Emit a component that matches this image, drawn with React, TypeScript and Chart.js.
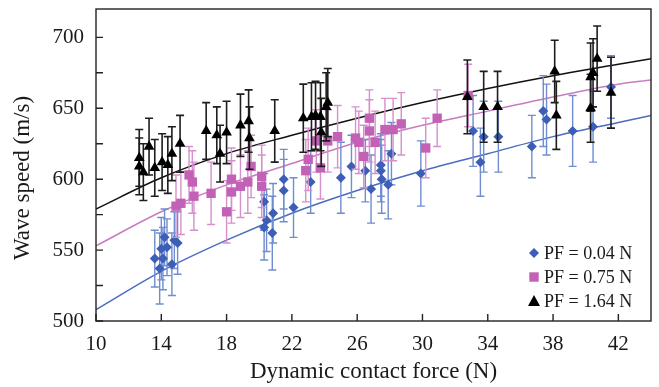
import React, { useEffect, useRef } from 'react';
import { Chart, registerables } from 'chart.js';

Chart.register(...registerables);

// ---------- data ----------
const X_TICKS = [10, 14, 18, 22, 26, 30, 34, 38, 42];
const Y_TICKS = [500, 525, 550, 575, 600, 625, 650, 675, 700];
const Y_LABELED = [500, 550, 600, 650, 700];

const BLUE_X = [13.6, 13.9, 14.0, 14.2, 14.1, 14.35, 14.65, 14.8, 15.0, 20.3, 20.45, 20.3, 20.85, 20.8, 21.5, 21.5, 22.1, 23.15, 25.0, 25.65, 26.5, 26.85, 27.45, 27.45, 27.5, 27.9, 28.1, 29.9, 33.1, 33.55, 33.75, 34.65, 36.7, 37.4, 37.6, 39.2, 40.45, 41.55];
const BLUE_Y = [544, 537, 551, 559, 544, 552, 540, 557, 555, 584, 571, 566, 576, 562, 600, 592, 580, 598, 601, 609, 606, 593, 610, 606, 600, 596, 618, 604, 634, 612, 630, 630, 623, 648, 642, 634, 637, 665];
const BLUE_ERR = [20, 25, 22, 20, 22, 20, 22, 20, 22, 20, 22, 23, 21, 26, 21, 22, 21, 22, 25, 22, 22, 24, 22, 22, 24, 24, 22, 23, 25, 24, 25, 25, 22, 25, 25, 25, 25, 22];

const PINK_X = [14.9, 15.2, 15.7, 15.9, 16.0, 17.05, 18.0, 18.3, 18.3, 18.85, 19.3, 19.5, 20.15, 20.15, 22.85, 23.0, 23.5, 23.75, 24.2, 24.8, 25.9, 26.1, 26.4, 26.75, 26.75, 27.1, 27.7, 28.2, 28.7, 30.2, 30.9, 32.8];
const PINK_Y = [581, 583, 603, 598, 588, 590, 577, 600, 591, 595, 598, 609, 602, 595, 606, 614, 627, 608, 627, 630, 629, 626, 616, 643, 634, 626, 635, 635, 639, 622, 643, 659];
const PINK_ERR = [22, 22, 20, 22, 24, 22, 22, 22, 22, 22, 22, 22, 22, 22, 22, 22, 22, 22, 22, 22, 22, 22, 22, 20, 22, 22, 22, 22, 22, 21, 20, 22];

const BLACK_X = [12.65, 12.65, 12.9, 13.25, 13.6, 14.05, 14.4, 14.65, 15.15, 16.75, 17.4, 17.6, 18.0, 18.85, 19.35, 19.4, 20.95, 22.7, 23.2, 23.45, 23.75, 23.8, 24.1, 24.2, 32.75, 33.75, 34.6, 38.1, 38.2, 40.3, 40.3, 40.45, 40.7, 41.55];
const BLACK_Y = [615, 609, 605, 623, 608, 612, 610, 618, 625, 634, 631, 618, 633, 638, 641, 629, 634, 643, 644, 645, 644, 633, 651, 654, 658, 651, 651, 676, 645, 650, 672, 675, 685, 661];
const BLACK_ERR = [20, 20, 20, 20, 20, 20, 20, 19, 20, 20, 20, 20, 22, 22, 22, 22, 22, 24, 24, 24, 24, 24, 24, 24, 26, 25, 25, 22, 24, 24, 24, 24, 23, 25];

const FIT_X = [10, 14, 18, 22, 26, 30, 34, 38, 42, 44];
const BLUE_FIT = [508, 535, 557, 576, 592, 606, 618, 630, 640, 645];
const PINK_FIT = [553, 577, 596, 611, 626, 638, 648, 658, 667, 670];
const BLACK_FIT = [579, 601, 618, 631, 643, 654, 664, 673, 681, 685];

const LEGEND_LABELS = ['PF = 0.04 N', 'PF = 0.75 N', 'PF = 1.64 N'];
const X_TITLE = 'Dynamic contact force (N)';
const Y_TITLE = 'Wave speed (m/s)';

// ---------- styles ----------
const BLUE = '#3c5eb6';
const PINK = '#c261b5';
const BLACK = '#000000';
const BLUE_BAR = '#6f8dd0';
const PINK_BAR = '#d690cb';
const BLACK_BAR = '#1e1e1e';
const FONT = '"Liberation Serif", "Times New Roman", serif';
const TEXT = '#1a1a1a';

const pts = (xs: number[], ys: number[]) => xs.map((x, i) => ({ x, y: ys[i] }));

function drawMarker(ctx: CanvasRenderingContext2D, kind: string, x: number, y: number, color: string) {
  ctx.save();
  ctx.fillStyle = color;
  ctx.beginPath();
  if (kind === 'diamond') {
    const r = 5;
    ctx.moveTo(x, y - r); ctx.lineTo(x + r, y); ctx.lineTo(x, y + r); ctx.lineTo(x - r, y);
  } else if (kind === 'square') {
    const h = 4.7;
    ctx.rect(x - h, y - h, 2 * h, 2 * h);
  } else {
    ctx.moveTo(x, y - 6); ctx.lineTo(x + 6, y + 5); ctx.lineTo(x - 6, y + 5);
  }
  ctx.closePath();
  ctx.fill();
  ctx.restore();
}

const errorBarPlugin = {
  id: 'errorBars',
  beforeDatasetDraw(chart: any, args: any) {
    const ds = chart.data.datasets[args.index];
    if (!ds.errors) return;
    const { ctx } = chart;
    const xs = chart.scales.x;
    const ys = chart.scales.y;
    ctx.save();
    ctx.strokeStyle = ds.errorColor;
    ctx.lineWidth = ds.errorWidth;
    ds.data.forEach((p: any, i: number) => {
      const e = ds.errors[i];
      const px = xs.getPixelForValue(p.x);
      const top = ys.getPixelForValue(p.y + e);
      const bot = ys.getPixelForValue(p.y - e);
      ctx.beginPath();
      ctx.moveTo(px, top); ctx.lineTo(px, bot);
      ctx.moveTo(px - 4, top); ctx.lineTo(px + 4, top);
      ctx.moveTo(px - 4, bot); ctx.lineTo(px + 4, bot);
      ctx.stroke();
    });
    ctx.restore();
  },
};

const framePlugin = {
  id: 'frame',
  afterDraw(chart: any) {
    const { ctx, chartArea } = chart;
    const { left, right, top, bottom } = chartArea;
    ctx.save();
    ctx.strokeStyle = '#222';
    ctx.lineWidth = 1.4;
    ctx.strokeRect(left, top, right - left, bottom - top);
    ctx.beginPath();
    chart.scales.y.ticks.forEach((t: any) => {
      const py = chart.scales.y.getPixelForValue(t.value);
      ctx.moveTo(left, py); ctx.lineTo(left + 7, py);
    });
    chart.scales.x.ticks.forEach((t: any) => {
      const px = chart.scales.x.getPixelForValue(t.value);
      ctx.moveTo(px, bottom); ctx.lineTo(px, bottom - 7);
    });
    ctx.stroke();
    // y title
    ctx.save();
    ctx.fillStyle = TEXT;
    ctx.font = `23px ${FONT}`;
    ctx.textAlign = 'center';
    ctx.textBaseline = 'middle';
    ctx.translate(23, (top + bottom) / 2 + 13);
    ctx.rotate(-Math.PI / 2);
    ctx.fillText(Y_TITLE, 0, 0);
    ctx.restore();
    // legend
    const kinds = ['diamond', 'square', 'triangle'];
    const colors = [BLUE, PINK, BLACK];
    ctx.font = `18px ${FONT}`;
    ctx.textBaseline = 'middle';
    ctx.textAlign = 'left';
    LEGEND_LABELS.forEach((label, i) => {
      const y = bottom - 68 + i * 24;
      drawMarker(ctx, kinds[i], right - 117, y, colors[i]);
      ctx.fillStyle = TEXT;
      ctx.fillText(label, right - 107, y + 1);
    });
    ctx.restore();
  },
};

export default function App() {
  const ref = useRef<HTMLCanvasElement>(null);
  useEffect(() => {
    document.body.style.margin = '0';
    const canvas = ref.current!;
    const lineDs = (ys: number[], color: string) => ({
      type: 'line' as const,
      data: pts(FIT_X, ys),
      borderColor: color,
      borderWidth: 1.5,
      pointRadius: 0,
      cubicInterpolationMode: 'monotone' as const,
      fill: false,
      order: 10,
    });
    const chart = new Chart(canvas, {
      type: 'scatter',
      data: {
        datasets: [
          lineDs(BLUE_FIT, '#4a6cc2'),
          lineDs(PINK_FIT, '#c97bc0'),
          lineDs(BLACK_FIT, '#111'),
          {
            data: pts(BLUE_X, BLUE_Y),
            pointStyle: 'rectRot',
            pointRadius: 5,
            backgroundColor: BLUE,
            borderColor: BLUE,
            borderWidth: 0,
            order: 3,
            errors: BLUE_ERR,
            errorColor: BLUE_BAR,
            errorWidth: 1.4,
          } as any,
          {
            data: pts(PINK_X, PINK_Y),
            pointStyle: 'rect',
            pointRadius: 6.6,
            backgroundColor: PINK,
            borderColor: PINK,
            borderWidth: 0,
            order: 2,
            errors: PINK_ERR,
            errorColor: PINK_BAR,
            errorWidth: 1.4,
          } as any,
          {
            data: pts(BLACK_X, BLACK_Y),
            pointStyle: 'triangle',
            pointRadius: 6.2,
            backgroundColor: BLACK,
            borderColor: BLACK,
            borderWidth: 0,
            order: 1,
            errors: BLACK_ERR,
            errorColor: BLACK_BAR,
            errorWidth: 1.6,
          } as any,
        ],
      },
      options: {
        animation: false,
        responsive: false,
        devicePixelRatio: 1,
        layout: { padding: { top: 9, right: 8, bottom: 0, left: 0 } },
        plugins: { legend: { display: false }, tooltip: { enabled: false } },
        scales: {
          x: {
            type: 'linear',
            min: 10,
            max: 44,
            grid: { display: false, drawTicks: false },
            border: { display: false },
            ticks: {
              padding: 11,
              color: TEXT,
              font: { family: FONT, size: 21 },
              maxRotation: 0,
              autoSkip: false,
            },
            afterBuildTicks: (s: any) => { s.ticks = X_TICKS.map((v) => ({ value: v })); },
            title: {
              display: true,
              text: X_TITLE,
              color: TEXT,
              font: { family: FONT, size: 23 },
              padding: { top: 0, bottom: 1 },
            },
            afterFit: (s: any) => { s.height = 66; s.paddingLeft = 0; s.paddingRight = 0; },
          },
          y: {
            type: 'linear',
            min: 500,
            max: 720,
            grid: { display: false, drawTicks: false },
            border: { display: false },
            ticks: {
              padding: 12,
              color: TEXT,
              font: { family: FONT, size: 21 },
              autoSkip: false,
              callback: (v: any) => (Y_LABELED.includes(Number(v)) ? String(v) : ''),
            },
            afterBuildTicks: (s: any) => { s.ticks = Y_TICKS.map((v) => ({ value: v })); },
            title: { display: false },
            afterFit: (s: any) => { s.width = 96; s.paddingTop = 0; s.paddingBottom = 0; },
          },
        },
      },
      plugins: [errorBarPlugin, framePlugin],
    } as any);
    return () => chart.destroy();
  }, []);
  return (
    <div style={{ width: 659, height: 387 }}>
      <canvas ref={ref} width={659} height={387} style={{ display: 'block' }} />
    </div>
  );
}
